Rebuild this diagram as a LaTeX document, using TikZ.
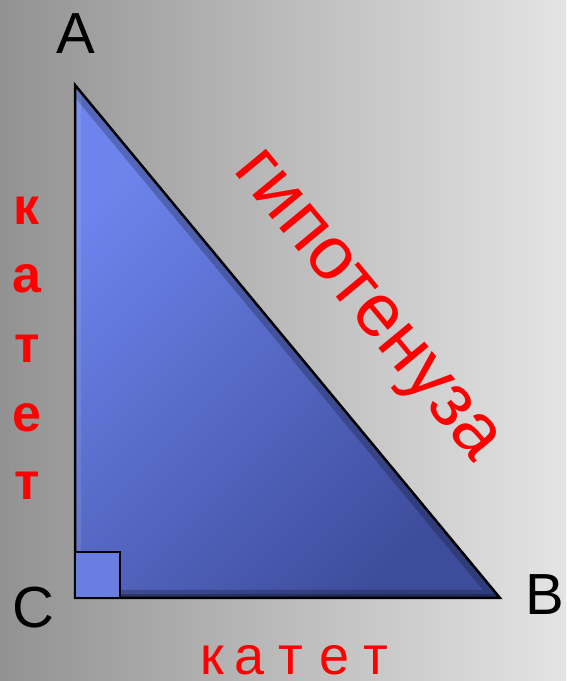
\documentclass[tikz,border=0pt]{standalone}
\usepackage{fontspec}
\setmainfont{Liberation Sans}
\usetikzlibrary{calc}

\definecolor{bgdark}{RGB}{146,146,146}
\definecolor{bglight}{RGB}{228,228,228}
\definecolor{trilight}{RGB}{108,132,236}
\definecolor{tridark}{RGB}{62,76,156}
\definecolor{sqfill}{RGB}{106,126,226}
\definecolor{labred}{RGB}{255,0,0}

\tikzset{
  vertexlabel/.style={font=\fontsize{58}{58}\selectfont, inner sep=0pt, anchor=base},
  sideletter/.style={text=labred, font=\fontsize{52}{52}\selectfont\bfseries, inner sep=0pt, anchor=base},
  baseletter/.style={text=labred, font=\fontsize{54}{54}\selectfont, inner sep=0pt, anchor=base},
  hyplabel/.style={text=labred, font=\fontsize{75}{75}\selectfont, inner sep=0pt, anchor=base, rotate=-50.4}
}

\begin{document}
\begin{tikzpicture}[x=1pt,y=1pt]
% background
\shade[left color=bgdark, right color=bglight] (0,0) rectangle (566,681);
\useasboundingbox (0,0) rectangle (566,681);
% vertices
\coordinate (A) at (75,596);
\coordinate (C) at (75,83);
\coordinate (B) at (500,83);
% triangle with a soft bevel
\shade[top color=trilight, bottom color=tridark, shading angle=45] (A) -- (B) -- (C) -- cycle;
\begin{scope}
  \clip (A) -- (B) -- (C) -- cycle;
  \draw[line width=16pt, black, opacity=0.22] (A) -- (B) -- (C);
  \draw[line width=8pt, black, opacity=0.25] (B) -- (C);
  \draw[line width=12pt, white, opacity=0.10] (C) -- (A);
\end{scope}
\draw[line width=2.5pt] (A) -- (B) -- (C) -- cycle;
% right angle mark
\draw[fill=sqfill, line width=2pt] (C) rectangle ++(45,46);
% vertex names
\node[vertexlabel] (labA) at (76,627) {A};
\node[vertexlabel] (labC) at (33,53) {C};
\node[vertexlabel] (labB) at (545,66) {B};
% legs
\foreach \ch/\y [count=\i] in {к/456, а/388, т/318, е/249, т/181}
  \node[sideletter] (sideleg\i) at (27,\y) {\ch};
\foreach \ch/\x [count=\i] in {к/212, а/250, т/291, е/335, т/376}
  \node[baseletter] (baseleg\i) at (\x,6) {\ch};
% hypotenuse
\coordinate (hypmid) at ($(A)!0.535!(B)$);
\node[hyplabel] (hyptext) at ($(hypmid)!66pt!90:(B)$) {гипотенуза};
\end{tikzpicture}
\end{document}
